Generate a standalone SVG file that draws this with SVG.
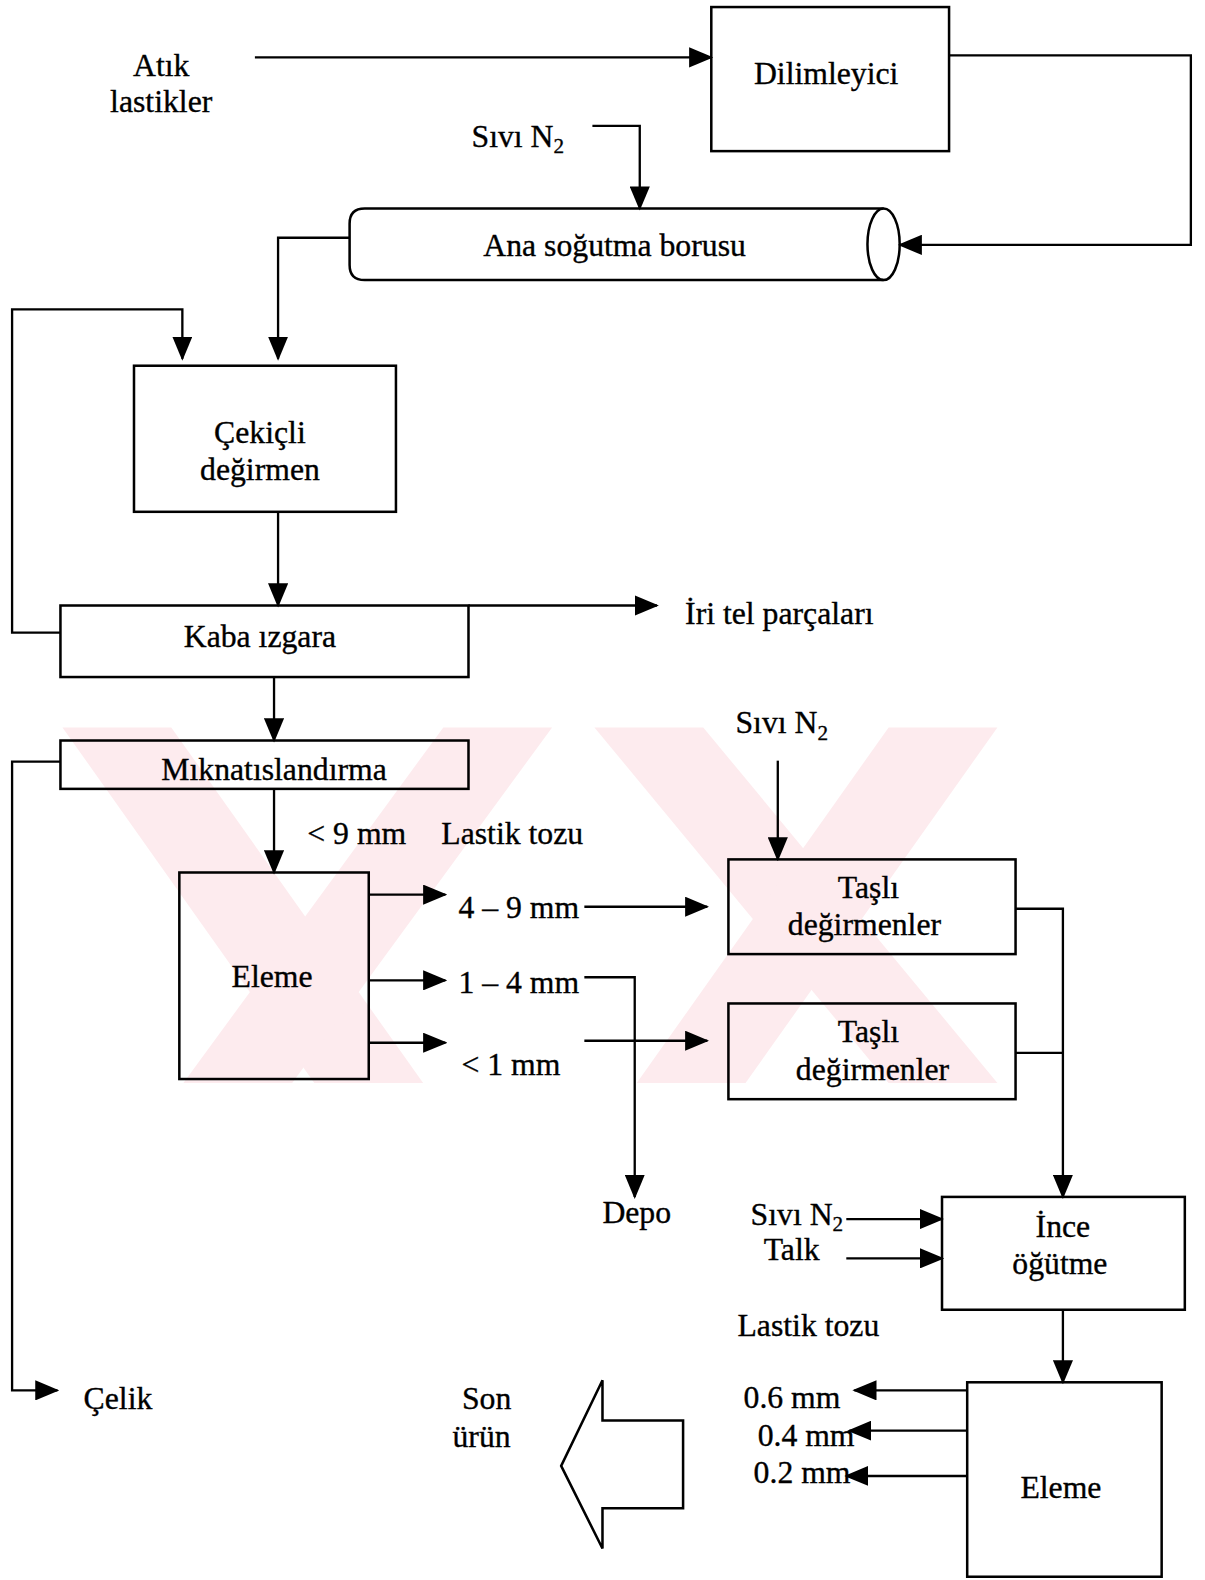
<svg xmlns="http://www.w3.org/2000/svg" width="1205" height="1580" viewBox="0 0 1205 1580">
<defs>
<style>
text{font-family:"Liberation Serif","Times New Roman",serif;font-size:31.5px;fill:#000;stroke:#000;stroke-width:0.35}
.c{text-anchor:middle}
.sub{font-size:21px}
.box{fill:none;stroke:#000;stroke-width:2.5}
.ln{fill:none;stroke:#000;stroke-width:2.3}
.wm{fill:#fdebee}
</style>
<marker id="ah" markerUnits="userSpaceOnUse" markerWidth="24" markerHeight="20" refX="22" refY="10" orient="auto">
<path d="M0,0 L24,10 L0,20 Z" fill="#000"/>
</marker>
</defs>
<rect width="1205" height="1580" fill="#fff"/>
<g transform="scale(1.0075)">
<g id="watermark">
<polygon class="wm" points="62,722 170,722 420,1075 312,1075"/>
<polygon class="wm" points="440,722 548,722 290,1075 182,1075"/>
<polygon class="wm" points="590,722 698,722 990,1075 882,1075"/>
<polygon class="wm" points="882,722 990,722 740,1075 632,1075"/>
</g>
<g id="connectors">
<path class="ln" d="M253,57 H706" marker-end="url(#ah)"/>
<path class="ln" d="M942,55 H1182 V243 H893" marker-end="url(#ah)"/>
<path class="ln" d="M588,125 H635 V207" marker-end="url(#ah)"/>
<path class="ln" d="M347,236 H276 V356" marker-end="url(#ah)"/>
<path class="ln" d="M60,628 H12 V307 H181 V356" marker-end="url(#ah)"/>
<path class="ln" d="M276,508 V601" marker-end="url(#ah)"/>
<path class="ln" d="M465,601 H652" marker-end="url(#ah)"/>
<path class="ln" d="M272,672 V735" marker-end="url(#ah)"/>
<path class="ln" d="M60,756 H12 V1380 H57" marker-end="url(#ah)"/>
<path class="ln" d="M272,783 V866" marker-end="url(#ah)"/>
<path class="ln" d="M366,888 H442" marker-end="url(#ah)"/>
<path class="ln" d="M366,973 H442" marker-end="url(#ah)"/>
<path class="ln" d="M366,1035 H442" marker-end="url(#ah)"/>
<path class="ln" d="M580,900 H702" marker-end="url(#ah)"/>
<path class="ln" d="M580,970 H630 V1188" marker-end="url(#ah)"/>
<path class="ln" d="M580,1033 H702" marker-end="url(#ah)"/>
<path class="ln" d="M772,755 V853" marker-end="url(#ah)"/>
<path class="ln" d="M1008,902 H1055 V1188" marker-end="url(#ah)"/>
<path class="ln" d="M1008,1045 H1055"/>
<path class="ln" d="M840,1210 H935" marker-end="url(#ah)"/>
<path class="ln" d="M840,1249 H935" marker-end="url(#ah)"/>
<path class="ln" d="M1055,1300 V1372" marker-end="url(#ah)"/>
<path class="ln" d="M960,1380 H848" marker-end="url(#ah)"/>
<path class="ln" d="M960,1420 H843" marker-end="url(#ah)"/>
<path class="ln" d="M960,1465 H840" marker-end="url(#ah)"/>
</g>
<g id="atik-lastikler">
<text class="c" x="160" y="75">Atık</text>
<text class="c" x="160" y="111">lastikler</text>
</g>
<g id="dilimleyici">
<rect class="box" x="706" y="7" width="236" height="143"/>
<text class="c" x="820" y="83">Dilimleyici</text>
</g>
<g id="sivi-n2-1">
<text x="468" y="146">Sıvı N<tspan class="sub" dy="6">2</tspan></text>
</g>
<g id="ana-sogutma-borusu">
<path class="box" d="M877,207 H362 Q347,207 347,222 V263 Q347,278 362,278 H877"/>
<ellipse class="box" cx="877" cy="242.5" rx="16" ry="35.5"/>
<text class="c" x="610" y="254">Ana soğutma borusu</text>
</g>
<g id="cekicli-degirmen">
<rect class="box" x="133" y="363" width="260" height="145"/>
<text class="c" x="258" y="440">Çekiçli</text>
<text class="c" x="258" y="476">değirmen</text>
</g>
<g id="kaba-izgara">
<rect class="box" x="60" y="601" width="405" height="71"/>
<text class="c" x="258" y="642">Kaba ızgara</text>
</g>
<g id="iri-tel">
<text x="680" y="619">İri tel parçaları</text>
</g>
<g id="miknatislandirma">
<rect class="box" x="60" y="735" width="405" height="48"/>
<text class="c" x="272" y="774">Mıknatıslandırma</text>
</g>
<g id="labels-9mm">
<text x="305" y="838">&lt; 9 mm</text>
<text x="438" y="838">Lastik tozu</text>
</g>
<g id="eleme-1">
<rect class="box" x="178" y="866" width="188" height="205"/>
<text class="c" x="270" y="980">Eleme</text>
</g>
<g id="size-labels">
<text x="455" y="911">4 – 9 mm</text>
<text x="455" y="986">1 – 4 mm</text>
<text x="458" y="1067">&lt; 1 mm</text>
</g>
<g id="sivi-n2-2">
<text x="730" y="728">Sıvı N<tspan class="sub" dy="6">2</tspan></text>
</g>
<g id="tasli-1">
<rect class="box" x="723" y="853" width="285" height="94"/>
<text class="c" x="862" y="891">Taşlı</text>
<text class="c" x="858" y="928">değirmenler</text>
</g>
<g id="tasli-2">
<rect class="box" x="723" y="996" width="285" height="95"/>
<text class="c" x="862" y="1034">Taşlı</text>
<text class="c" x="866" y="1072">değirmenler</text>
</g>
<g id="depo">
<text class="c" x="632" y="1214">Depo</text>
</g>
<g id="inputs-3">
<text x="745" y="1216">Sıvı N<tspan class="sub" dy="6">2</tspan></text>
<text x="758" y="1251">Talk</text>
</g>
<g id="ince-ogutme">
<rect class="box" x="935" y="1188" width="241" height="112"/>
<text class="c" x="1055" y="1228">İnce</text>
<text class="c" x="1052" y="1265">öğütme</text>
</g>
<g id="lastik-tozu-2">
<text x="732" y="1326">Lastik tozu</text>
</g>
<g id="eleme-2">
<rect class="box" x="960" y="1372" width="193" height="193"/>
<text class="c" x="1053" y="1487">Eleme</text>
</g>
<g id="fine-sizes">
<text x="738" y="1398">0.6 mm</text>
<text x="752" y="1435">0.4 mm</text>
<text x="748" y="1472">0.2 mm</text>
</g>
<g id="celik">
<text x="83" y="1399">Çelik</text>
</g>
<g id="son-urun">
<text class="c" x="483" y="1399">Son</text>
<text class="c" x="478" y="1436">ürün</text>
<polygon class="box" points="557,1455 598,1370 598,1410 678,1410 678,1497 598,1497 598,1537"/>
</g>
</g>
</svg>
